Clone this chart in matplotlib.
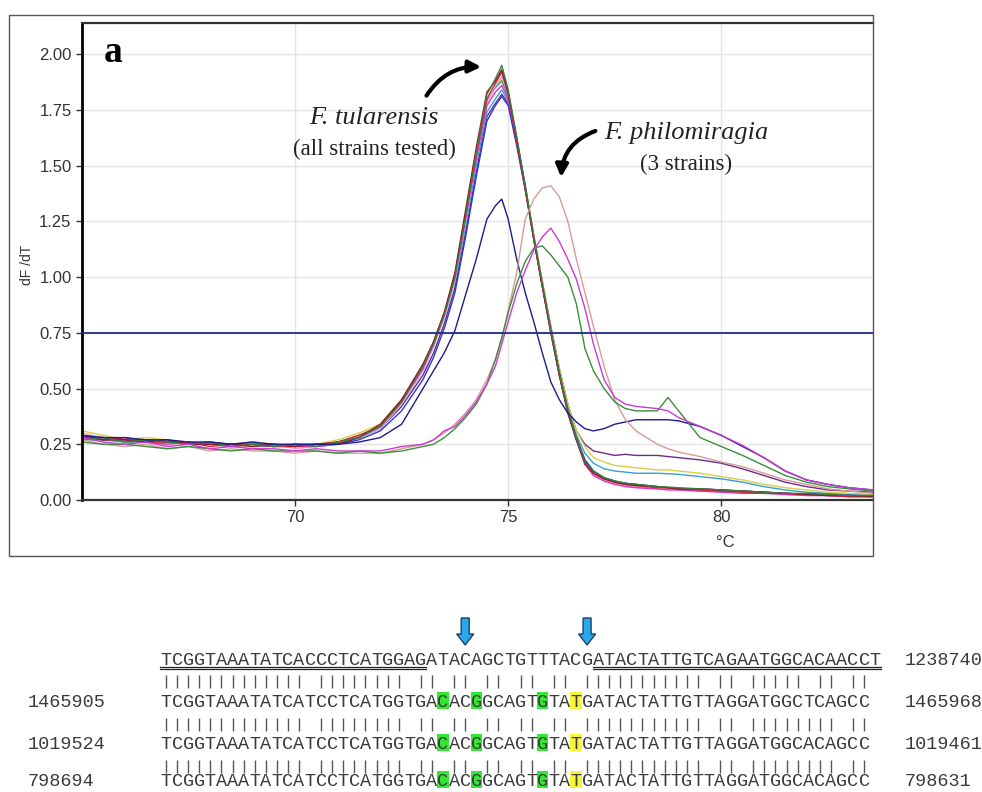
import matplotlib
matplotlib.use("Agg")
import matplotlib.pyplot as plt
from matplotlib.patches import Rectangle, FancyArrowPatch, FancyArrow

# ---------------------------------------------------------------
# Melt curve data (dF/dT)
# ---------------------------------------------------------------
temps = [65.0, 65.5, 66.0, 66.5, 67.0, 67.5, 68.0, 68.5, 69.0, 69.5, 70.0, 70.5, 71.0,
         71.5, 72.0, 72.5, 73.0, 73.25, 73.5, 73.75, 74.0, 74.25, 74.5, 74.7, 74.85, 75.0,
         75.2, 75.4, 75.6, 75.8, 76.0, 76.2, 76.4, 76.6, 76.8, 77.0, 77.25, 77.5, 77.75,
         78.0, 78.5, 78.75, 79.0, 79.5, 80.0, 80.5, 81.0, 81.5, 82.0, 82.5, 83.0, 83.56]

tul_green = [0.27, 0.28, 0.26, 0.27, 0.26, 0.25, 0.26, 0.24, 0.25, 0.24, 0.25, 0.24, 0.26,
             0.28, 0.33, 0.44, 0.60, 0.70, 0.83, 1.00, 1.27, 1.56, 1.82, 1.89, 1.95, 1.84,
             1.63, 1.41, 1.18, 0.97, 0.76, 0.57, 0.40, 0.28, 0.17, 0.13, 0.10, 0.085, 0.075,
             0.07, 0.06, 0.058, 0.055, 0.05, 0.045, 0.04, 0.035, 0.03, 0.03, 0.025, 0.02, 0.02]
tul_darkred = [0.29, 0.27, 0.27, 0.26, 0.27, 0.25, 0.25, 0.25, 0.24, 0.25, 0.24, 0.25, 0.25,
               0.28, 0.34, 0.45, 0.61, 0.71, 0.84, 1.02, 1.30, 1.58, 1.83, 1.88, 1.93, 1.83,
               1.62, 1.40, 1.17, 0.96, 0.75, 0.56, 0.39, 0.27, 0.17, 0.12, 0.095, 0.08, 0.07,
               0.065, 0.06, 0.055, 0.05, 0.05, 0.045, 0.04, 0.035, 0.03, 0.025, 0.02, 0.02, 0.015]
tul_red = [0.28, 0.27, 0.28, 0.26, 0.26, 0.26, 0.24, 0.25, 0.25, 0.24, 0.24, 0.25, 0.26,
           0.29, 0.33, 0.45, 0.60, 0.71, 0.84, 1.01, 1.28, 1.55, 1.80, 1.87, 1.92, 1.82,
           1.61, 1.40, 1.18, 0.96, 0.76, 0.56, 0.40, 0.27, 0.16, 0.12, 0.095, 0.08, 0.07,
           0.065, 0.055, 0.055, 0.05, 0.045, 0.04, 0.035, 0.03, 0.03, 0.025, 0.02, 0.015, 0.015]
tul_pink = [0.30, 0.28, 0.27, 0.27, 0.25, 0.26, 0.25, 0.24, 0.24, 0.25, 0.23, 0.24, 0.25,
            0.28, 0.32, 0.43, 0.58, 0.69, 0.82, 0.99, 1.25, 1.53, 1.78, 1.86, 1.90, 1.82,
            1.62, 1.40, 1.18, 0.97, 0.76, 0.57, 0.40, 0.27, 0.17, 0.12, 0.09, 0.075, 0.065,
            0.06, 0.05, 0.05, 0.045, 0.04, 0.04, 0.035, 0.03, 0.025, 0.02, 0.02, 0.015, 0.015]
tul_yellow = [0.31, 0.29, 0.27, 0.28, 0.27, 0.26, 0.26, 0.25, 0.26, 0.25, 0.25, 0.25, 0.27,
              0.30, 0.34, 0.45, 0.60, 0.70, 0.83, 1.00, 1.26, 1.54, 1.79, 1.86, 1.89, 1.82,
              1.62, 1.41, 1.19, 0.98, 0.77, 0.59, 0.43, 0.31, 0.24, 0.19, 0.17, 0.155, 0.15,
              0.145, 0.135, 0.135, 0.13, 0.12, 0.105, 0.09, 0.07, 0.055, 0.045, 0.035, 0.03, 0.025]
tul_teal = [0.27, 0.27, 0.26, 0.26, 0.26, 0.25, 0.25, 0.25, 0.24, 0.24, 0.25, 0.24, 0.25,
            0.28, 0.33, 0.44, 0.59, 0.70, 0.83, 1.00, 1.27, 1.55, 1.79, 1.85, 1.88, 1.81,
            1.62, 1.41, 1.18, 0.97, 0.76, 0.57, 0.41, 0.28, 0.18, 0.13, 0.10, 0.085, 0.075,
            0.07, 0.06, 0.055, 0.05, 0.045, 0.04, 0.04, 0.035, 0.03, 0.025, 0.02, 0.02, 0.015]
tul_cyan = [0.28, 0.27, 0.27, 0.26, 0.26, 0.26, 0.25, 0.24, 0.25, 0.25, 0.24, 0.25, 0.26,
            0.29, 0.33, 0.43, 0.58, 0.69, 0.82, 0.98, 1.23, 1.50, 1.74, 1.80, 1.84, 1.79,
            1.61, 1.41, 1.19, 0.98, 0.77, 0.58, 0.42, 0.29, 0.21, 0.165, 0.14, 0.13, 0.125,
            0.12, 0.12, 0.118, 0.115, 0.105, 0.095, 0.08, 0.06, 0.045, 0.035, 0.03, 0.025, 0.02]
tul_purple = [0.29, 0.28, 0.27, 0.27, 0.26, 0.26, 0.25, 0.25, 0.26, 0.24, 0.25, 0.25, 0.26,
              0.28, 0.32, 0.42, 0.56, 0.66, 0.79, 0.95, 1.20, 1.47, 1.72, 1.78, 1.82, 1.78,
              1.60, 1.40, 1.18, 0.98, 0.78, 0.59, 0.43, 0.31, 0.25, 0.22, 0.21, 0.20, 0.205,
              0.20, 0.20, 0.195, 0.19, 0.18, 0.165, 0.14, 0.11, 0.08, 0.06, 0.045, 0.04, 0.035]
tul_magenta = [0.29, 0.27, 0.28, 0.26, 0.25, 0.26, 0.25, 0.24, 0.25, 0.24, 0.24, 0.24, 0.25,
               0.28, 0.33, 0.44, 0.59, 0.70, 0.83, 1.00, 1.26, 1.53, 1.77, 1.83, 1.86, 1.80,
               1.61, 1.40, 1.17, 0.96, 0.75, 0.56, 0.39, 0.27, 0.16, 0.11, 0.085, 0.07, 0.06,
               0.055, 0.05, 0.045, 0.045, 0.04, 0.035, 0.03, 0.03, 0.025, 0.02, 0.02, 0.015, 0.015]
tul_blue = [0.28, 0.28, 0.27, 0.27, 0.26, 0.25, 0.26, 0.25, 0.25, 0.25, 0.24, 0.25, 0.25,
            0.27, 0.31, 0.40, 0.54, 0.64, 0.77, 0.93, 1.18, 1.45, 1.70, 1.77, 1.81, 1.77,
            1.59, 1.39, 1.17, 0.96, 0.76, 0.57, 0.40, 0.28, 0.18, 0.13, 0.10, 0.085, 0.075,
            0.07, 0.06, 0.055, 0.05, 0.05, 0.045, 0.04, 0.035, 0.03, 0.025, 0.025, 0.02, 0.02]
tul_navy = [0.29, 0.28, 0.28, 0.27, 0.27, 0.26, 0.26, 0.25, 0.26, 0.25, 0.25, 0.25, 0.25,
            0.26, 0.28, 0.34, 0.50, 0.58, 0.66, 0.76, 0.92, 1.08, 1.26, 1.32, 1.35, 1.26,
            1.08, 0.93, 0.80, 0.66, 0.53, 0.45, 0.39, 0.35, 0.32, 0.31, 0.32, 0.34, 0.35,
            0.36, 0.36, 0.36, 0.355, 0.33, 0.29, 0.24, 0.19, 0.13, 0.09, 0.07, 0.055, 0.045]

phil_salmon = [0.27, 0.25, 0.24, 0.25, 0.23, 0.24, 0.22, 0.23, 0.22, 0.22, 0.21, 0.22, 0.21,
               0.21, 0.21, 0.23, 0.25, 0.27, 0.30, 0.34, 0.39, 0.45, 0.54, 0.63, 0.72, 0.85,
               1.02, 1.26, 1.35, 1.40, 1.41, 1.36, 1.25, 1.08, 0.93, 0.78, 0.60, 0.45, 0.36,
               0.31, 0.25, 0.23, 0.215, 0.195, 0.17, 0.15, 0.12, 0.09, 0.07, 0.05, 0.04, 0.03]
phil_magenta = [0.28, 0.26, 0.25, 0.26, 0.24, 0.25, 0.23, 0.24, 0.23, 0.23, 0.22, 0.23, 0.22,
                0.22, 0.22, 0.24, 0.25, 0.27, 0.31, 0.33, 0.38, 0.44, 0.52, 0.60, 0.70, 0.80,
                0.93, 1.03, 1.12, 1.18, 1.22, 1.16, 1.08, 0.99, 0.86, 0.70, 0.54, 0.46, 0.43,
                0.42, 0.41, 0.40, 0.37, 0.33, 0.29, 0.245, 0.19, 0.13, 0.09, 0.07, 0.055, 0.045]
phil_green = [0.26, 0.25, 0.25, 0.24, 0.23, 0.24, 0.23, 0.22, 0.23, 0.22, 0.22, 0.22, 0.21,
              0.22, 0.21, 0.22, 0.24, 0.25, 0.28, 0.32, 0.37, 0.43, 0.52, 0.63, 0.73, 0.84,
              0.97, 1.07, 1.13, 1.14, 1.10, 1.05, 1.00, 0.88, 0.68, 0.58, 0.50, 0.44, 0.41,
              0.40, 0.40, 0.46, 0.40, 0.28, 0.24, 0.20, 0.155, 0.11, 0.08, 0.06, 0.05, 0.04]

threshold = 0.75
y_ticks = [0.0, 0.25, 0.5, 0.75, 1.0, 1.25, 1.5, 1.75, 2.0]
x_ticks = [70, 75, 80]

# ---------------------------------------------------------------
# Alignment data
# ---------------------------------------------------------------
seq_top = "TCGGTAAATATCACCCTCATGGAGATACAGCTGTTTACGATACTATTGTCAGAATGGCACAACCT"
seq_rows = ["TCGGTAAATATCATCCTCATGGTGACACGGCAGTGTATGATACTATTGTTAGGATGGCTCAGCC",
            "TCGGTAAATATCATCCTCATGGTGACACGGCAGTGTATGATACTATTGTTAGGATGGCACAGCC",
            "TCGGTAAATATCATCCTCATGGTGACACGGCAGTGTATGATACTATTGTTAGGATGGCACAGCC"]
start_labels = ["1465905", "1019524", "798694"]
end_labels = ["1238740", "1465968", "1019461", "798631"]
primer_spans = [(0, 24), (39, 65)]
green_sites = [25, 28, 34]
yellow_sites = [37]
arrow_sites = [27, 38]

curves = [
    (tul_purple, "#6b2c8c"), (tul_cyan, "#3a9fd8"), (tul_yellow, "#d8cf45"),
    (tul_teal, "#2a9a8c"), (tul_pink, "#efa3d2"), (tul_blue, "#2b3bd0"),
    (tul_magenta, "#e030c8"), (tul_red, "#e0203c"), (tul_darkred, "#8c1c24"),
    (tul_green, "#3a7d3a"), (tul_navy, "#1c1c8c"),
    (phil_salmon, "#d89a9a"), (phil_green, "#3a8f3a"), (phil_magenta, "#c83cd0"),
]

W, H = 982, 792
fig = plt.figure(figsize=(W / 100, H / 100), dpi=100)

# main plot: pixel box 82..873 x 23..500
ax = fig.add_axes([82 / W, 1 - 500 / H, (873 - 82) / W, (500 - 23) / H])
for vals, col in curves:
    ax.plot(temps, vals, color=col, lw=1.0)
ax.axhline(threshold, color="#1f2a8c", lw=1.3, zorder=5)

ax.set_xlim(65.0, 83.56)
ax.set_ylim(0, 2.14)
ax.set_xticks(x_ticks)
ax.set_yticks(y_ticks)
ax.set_yticklabels([f"{v:.2f}" for v in y_ticks])
ax.grid(True, color="#e4e4e4", lw=1.0)
ax.set_axisbelow(True)
ax.tick_params(direction="out", length=4, width=1, colors="#333333", labelsize=12,
               labelcolor="#333333")
for lab in ax.get_xticklabels() + ax.get_yticklabels():
    lab.set_fontfamily("Liberation Sans")
ax.spines["left"].set_linewidth(2.0)
ax.spines["left"].set_color("black")
ax.spines["bottom"].set_linewidth(1.6)
ax.spines["bottom"].set_color("#333333")
ax.spines["top"].set_linewidth(1.6)
ax.spines["top"].set_color("#333333")
ax.spines["right"].set_visible(False)

ax.set_ylabel("dF /dT", fontsize=10, family="Liberation Sans", color="#333333")
ax.yaxis.set_label_coords((34 - 82) / 791, (500 - 265) / 477)
ax.set_xlabel("°C", fontsize=12, family="Liberation Sans", color="#333333")
ax.xaxis.set_label_coords((725 - 82) / 791, (500 - 535) / 477)

# overlay in pixel coordinates for annotations and alignment
ov = fig.add_axes([0, 0, 1, 1])
ov.set_xlim(0, W)
ov.set_ylim(H, 0)
ov.set_axis_off()

ov.add_patch(Rectangle((9, 15), 864, 541, fill=False, ec="#555555", lw=1.0))

ov.text(104, 52, "a", fontsize=27, fontweight="bold", family="Liberation Serif",
        ha="left", va="center")
ov.text(374, 118, "F. tularensis", fontsize=19, style="italic", family="Liberation Serif",
        ha="center", va="center", color="#222222")
ov.text(374, 149, "(all strains tested)", fontsize=16.5, family="Liberation Serif",
        ha="center", va="center", color="#222222")
ov.text(686, 133, "F. philomiragia", fontsize=19, style="italic", family="Liberation Serif",
        ha="center", va="center", color="#222222")
ov.text(686, 164, "(3 strains)", fontsize=16.5, family="Liberation Serif",
        ha="center", va="center", color="#222222")

ov.add_patch(FancyArrowPatch((425, 98), (484, 67), connectionstyle="arc3,rad=-0.3",
                             arrowstyle="-|>", mutation_scale=18, lw=3, color="black"))
ov.add_patch(FancyArrowPatch((598, 130), (561, 180), connectionstyle="arc3,rad=0.35",
                             arrowstyle="-|>", mutation_scale=18, lw=3, color="black"))

# alignment block
x0, cw = 160.5, 11.08
mono = "Liberation Mono"
txt_col = "#3a3a3a"
baselines = [665, 707, 749, 786]
bar_spans = [(675, 688), (718, 731), (760, 773)]


def cx(i):
    return x0 + cw * (i + 0.5)


for i, ch in enumerate(seq_top):
    ov.text(cx(i), baselines[0], ch, family=mono, fontsize=13.3, ha="center",
            va="baseline", color=txt_col)
for a, b in primer_spans:
    ov.plot([x0 + cw * a, x0 + cw * b], [666.5, 666.5], color="#222222", lw=0.9)
    ov.plot([x0 + cw * a, x0 + cw * b], [669.0, 669.0], color="#222222", lw=0.9)

for r, seq in enumerate(seq_rows):
    bl = baselines[r + 1]
    for i in green_sites:
        ov.add_patch(Rectangle((x0 + cw * i, bl - 15), cw, 17, color="#33e833", lw=0))
    for i in yellow_sites:
        ov.add_patch(Rectangle((x0 + cw * i, bl - 15), cw, 17, color="#f5f53a", lw=0))
    for i, ch in enumerate(seq):
        ov.text(cx(i), bl, ch, family=mono, fontsize=13.3, ha="center",
                va="baseline", color=txt_col)
    ov.text(28, bl, start_labels[r], family=mono, fontsize=13.3, ha="left",
            va="baseline", color=txt_col)
    y1, y2 = bar_spans[r]
    xs = [cx(i) for i in range(len(seq)) if seq[i] == seq_top[i]]
    ov.vlines(xs, y1, y2, color="#555555", lw=1.0)

for r, lab in enumerate(end_labels):
    ov.text(905, baselines[r], lab, family=mono, fontsize=13.3, ha="left",
            va="baseline", color=txt_col)

for i in arrow_sites:
    ov.add_patch(FancyArrow(cx(i), 618, 0, 27, width=8, head_width=17, head_length=11,
                            length_includes_head=True, fc="#2aa8ee", ec="#1f3f66", lw=1))

fig.savefig("out.png", dpi=100)
